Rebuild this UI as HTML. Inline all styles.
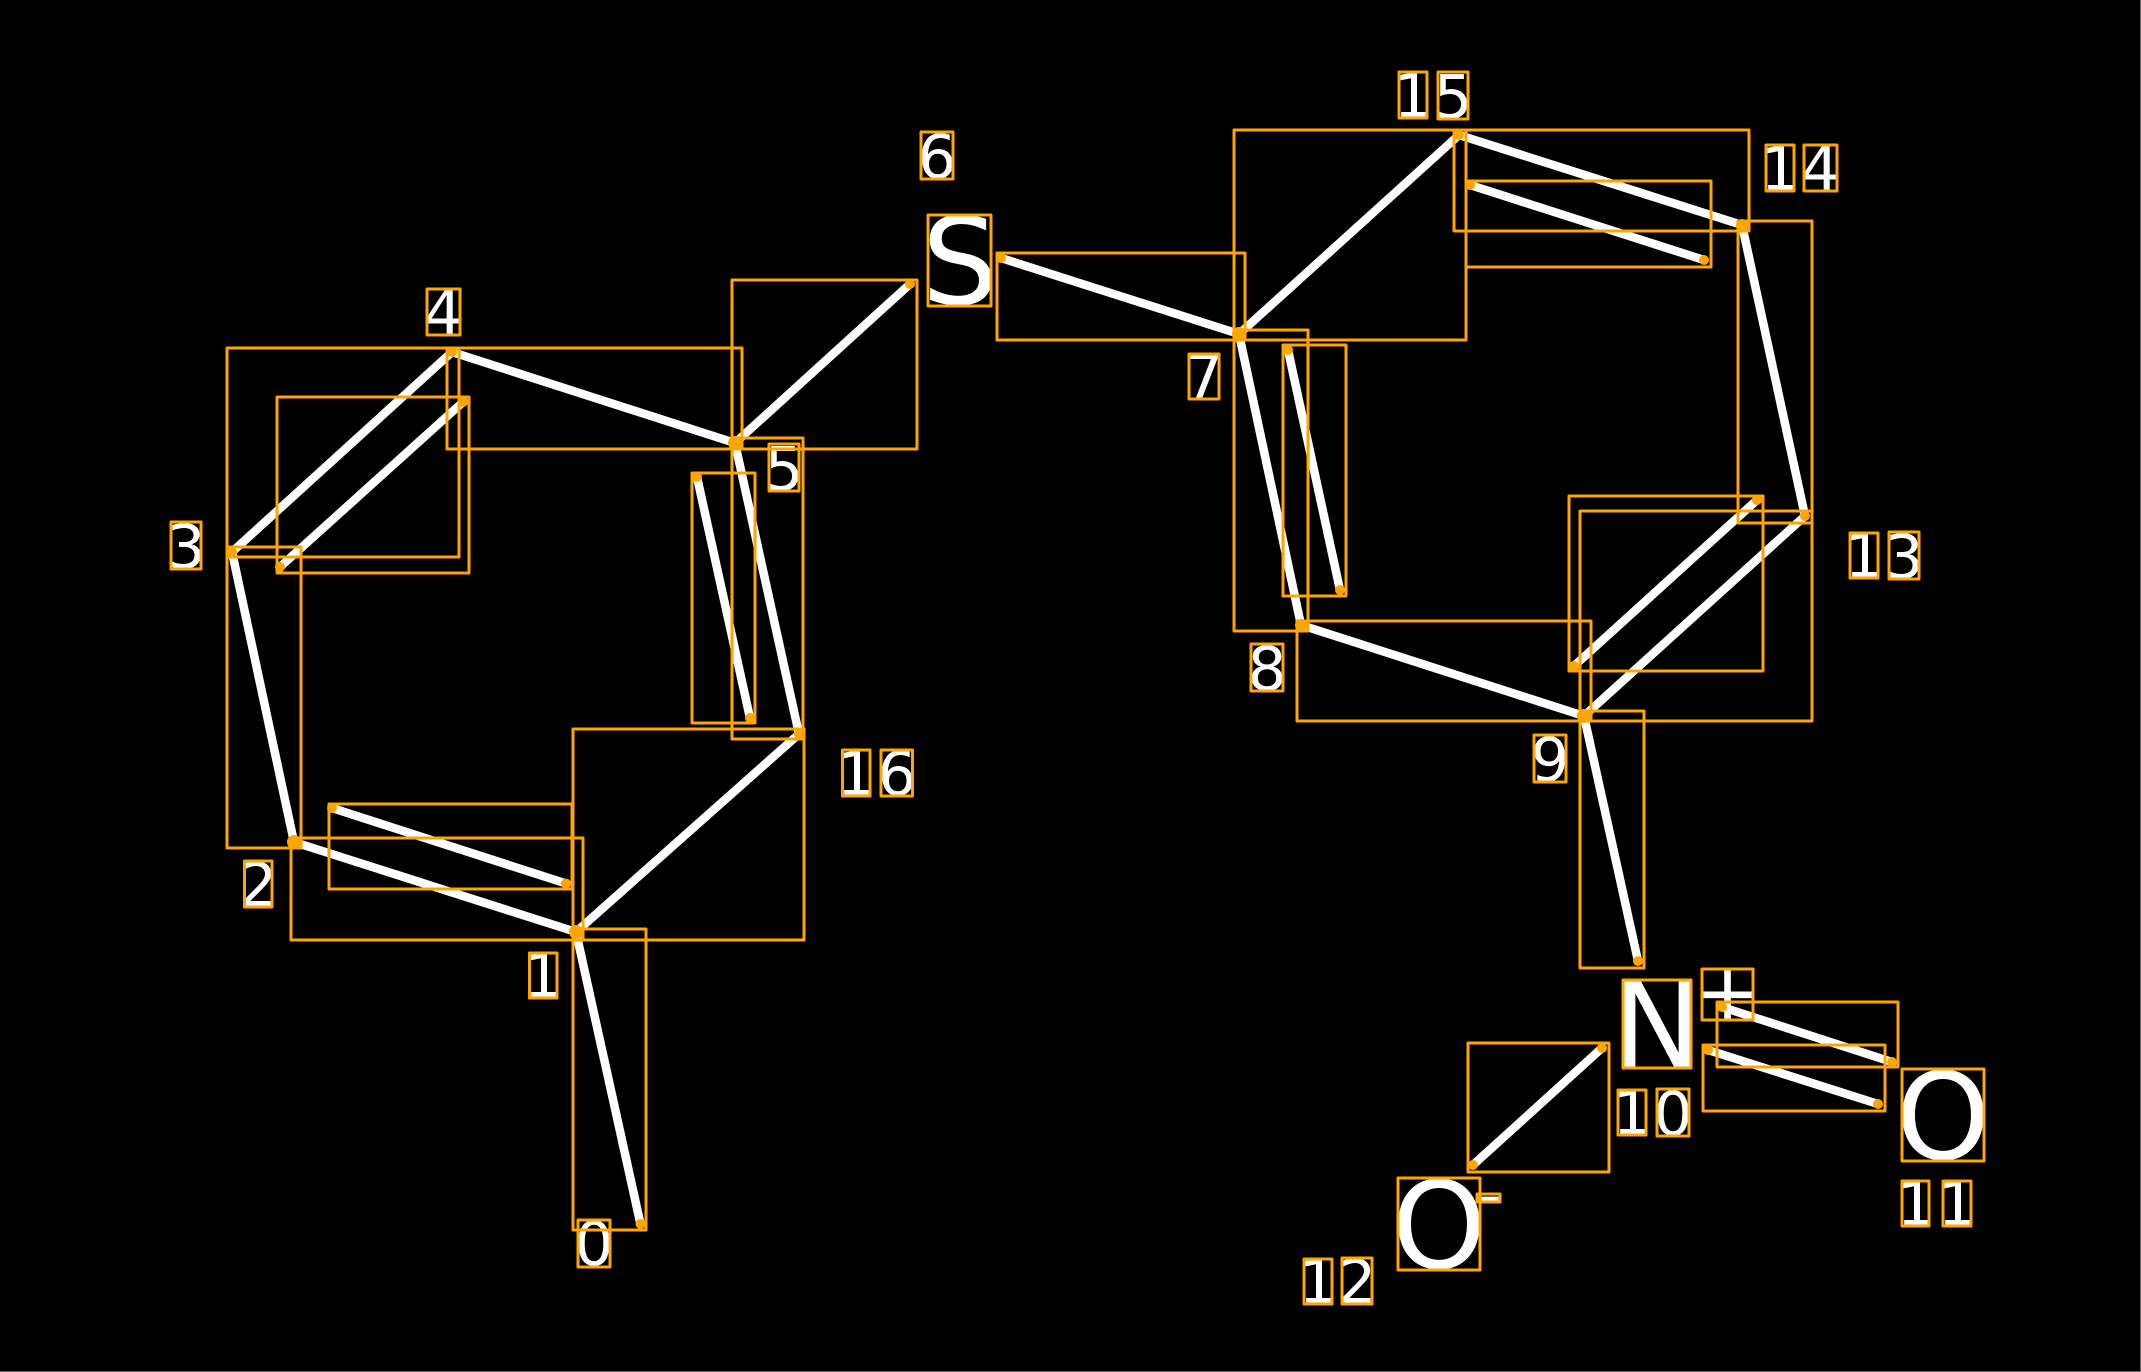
<!DOCTYPE html>
<html><head><meta charset="utf-8"><style>
html,body{margin:0;padding:0;background:#000;width:2141px;height:1372px;overflow:hidden}
svg{display:block}
.b line{stroke:#fff;stroke-width:8.5;stroke-linecap:round}
.r rect{fill:none;stroke:#FFA500;stroke-width:3;stroke-linejoin:round}
.d circle{fill:#FFA500}
text{font-family:"DejaVu Sans","Liberation Sans",sans-serif;fill:#fff;text-anchor:middle}
.n text{font-size:61px}
.a text{font-size:120px}
</style></head><body>
<svg width="2141" height="1372" viewBox="0 0 2141 1372" xmlns="http://www.w3.org/2000/svg">
<rect width="2141" height="1372" fill="#000"/>
<rect x="2140" y="0" width="1" height="1372" fill="#666"/>
<rect x="0" y="1371" width="2141" height="1" fill="#666"/>
<g class="b">
<line x1="640.5" y1="1224" x2="576" y2="932"/>
<line x1="576" y1="932" x2="294" y2="842"/>
<line x1="566" y1="883.5" x2="332" y2="808"/>
<line x1="294" y1="842" x2="232" y2="552"/>
<line x1="232" y1="552" x2="452" y2="352"/>
<line x1="280" y1="567" x2="463" y2="402"/>
<line x1="452" y1="352" x2="735" y2="443"/>
<line x1="735" y1="443" x2="910" y2="284"/>
<line x1="735" y1="443" x2="799" y2="734"/>
<line x1="697" y1="477" x2="750" y2="718"/>
<line x1="799" y1="734" x2="576" y2="932"/>
<line x1="1001" y1="258" x2="1239" y2="334"/>
<line x1="1239" y1="334" x2="1301" y2="625"/>
<line x1="1288" y1="350" x2="1340" y2="590"/>
<line x1="1301" y1="625" x2="1584" y2="716"/>
<line x1="1584" y1="716" x2="1638" y2="961"/>
<line x1="1584" y1="716" x2="1805" y2="516"/>
<line x1="1574" y1="666" x2="1757" y2="500"/>
<line x1="1805" y1="516" x2="1742" y2="225"/>
<line x1="1742" y1="225" x2="1459" y2="135"/>
<line x1="1704" y1="260" x2="1470" y2="185"/>
<line x1="1459" y1="135" x2="1239" y2="334"/>
<line x1="1602" y1="1048" x2="1473" y2="1165"/>
<line x1="1722" y1="1007" x2="1892" y2="1062"/>
<line x1="1708" y1="1050" x2="1878" y2="1104"/>
</g>
<g class="a">
<text x="960" y="304">S</text>
<text x="1657" y="1067">N</text>
<text x="1943" y="1159">O</text>
<text x="1439" y="1268">O</text>
</g>
<text x="1727.5" y="1020" font-size="80">+</text>
<text x="1488" y="1222" font-size="80">-</text>
<g class="n">
<text x="594" y="1265">0</text>
<text x="543" y="997">1</text>
<text x="258" y="906">2</text>
<text x="186" y="568">3</text>
<text x="443" y="334">4</text>
<text x="784" y="490">5</text>
<text x="937" y="178">6</text>
<text x="1204" y="398">7</text>
<text x="1267" y="690">8</text>
<text x="1550" y="781">9</text>
<text x="1632" y="1134">1</text><text x="1673" y="1135">0</text>
<text x="1916" y="1225">1</text><text x="1957" y="1225">1</text>
<text x="1318" y="1303">1</text><text x="1357" y="1303">2</text>
<text x="1864" y="577">1</text><text x="1904" y="578">3</text>
<text x="1780" y="190">1</text><text x="1820" y="190">4</text>
<text x="1413" y="117">1</text><text x="1453" y="118">5</text>
<text x="856" y="795">1</text><text x="897" y="795">6</text>
</g>
<g class="r">
<rect x="573" y="929" width="73" height="301"/>
<rect x="291" y="838" width="292" height="102"/>
<rect x="329" y="804" width="243" height="85"/>
<rect x="227" y="547" width="74" height="301"/>
<rect x="227" y="348" width="232" height="209"/>
<rect x="277" y="397" width="192" height="176"/>
<rect x="447" y="348" width="295" height="101"/>
<rect x="732" y="280" width="185" height="169"/>
<rect x="732" y="438" width="71" height="301"/>
<rect x="692" y="473" width="63" height="250"/>
<rect x="573" y="729" width="231" height="211"/>
<rect x="997" y="253" width="248" height="87"/>
<rect x="1234" y="330" width="74" height="301"/>
<rect x="1283" y="345" width="63" height="251"/>
<rect x="1297" y="621" width="294" height="100"/>
<rect x="1580" y="711" width="64" height="257"/>
<rect x="1580" y="511" width="232" height="210"/>
<rect x="1569" y="496" width="194" height="175"/>
<rect x="1738" y="221" width="74" height="302"/>
<rect x="1454" y="130" width="295" height="101"/>
<rect x="1466" y="181" width="245" height="86"/>
<rect x="1234" y="130" width="232" height="210"/>
<rect x="1468" y="1043" width="141" height="129"/>
<rect x="1717" y="1002" width="181" height="65"/>
<rect x="1703" y="1045" width="182" height="66"/>
<rect x="578" y="1220" width="32" height="47"/>
<rect x="529.5" y="953" width="27.5" height="45"/>
<rect x="244.5" y="861" width="27.5" height="46"/>
<rect x="171" y="522" width="30" height="47"/>
<rect x="427" y="289" width="33" height="46"/>
<rect x="769" y="444" width="30" height="47"/>
<rect x="921" y="132" width="32" height="47"/>
<rect x="1189" y="354" width="30" height="45"/>
<rect x="1251" y="644" width="32" height="47"/>
<rect x="1534" y="735" width="32" height="47"/>
<rect x="1618" y="1090" width="28" height="45"/>
<rect x="1657" y="1089" width="32" height="47"/>
<rect x="1902" y="1181" width="27" height="45"/>
<rect x="1943" y="1181" width="28" height="45"/>
<rect x="1304" y="1259" width="28" height="45"/>
<rect x="1342" y="1258" width="30" height="46"/>
<rect x="1850" y="533" width="28" height="45"/>
<rect x="1889" y="532" width="30" height="47"/>
<rect x="1766" y="145" width="28" height="46"/>
<rect x="1804" y="145" width="33" height="46"/>
<rect x="1399" y="72" width="28" height="46"/>
<rect x="1438" y="72" width="30" height="47"/>
<rect x="842.5" y="750" width="27.5" height="46"/>
<rect x="881" y="750" width="31.5" height="46"/>
<rect x="928" y="215" width="63" height="91"/>
<rect x="1623" y="980" width="68" height="88"/>
<rect x="1702" y="969" width="51" height="51"/>
<rect x="1902" y="1069" width="82" height="92"/>
<rect x="1398" y="1178" width="82" height="92"/>
<rect x="1477" y="1194" width="23" height="8"/>
</g>
<g class="d">
<circle cx="640.5" cy="1224" r="5"/><circle cx="576" cy="932" r="7"/><circle cx="294" cy="842" r="7"/>
<circle cx="566" cy="883.5" r="5"/><circle cx="332" cy="808" r="5"/><circle cx="232" cy="552" r="5"/>
<circle cx="452" cy="352" r="5"/><circle cx="280" cy="567" r="5"/><circle cx="463" cy="402" r="5"/>
<circle cx="735" cy="443" r="7"/><circle cx="910" cy="284" r="5"/><circle cx="799" cy="734" r="5"/>
<circle cx="697" cy="477" r="5"/><circle cx="750" cy="718" r="5"/><circle cx="1001" cy="258" r="5"/>
<circle cx="1239" cy="334" r="7"/><circle cx="1301" cy="625" r="6"/><circle cx="1288" cy="350" r="5"/>
<circle cx="1340" cy="590" r="5"/><circle cx="1584" cy="716" r="7"/><circle cx="1638" cy="961" r="5"/>
<circle cx="1805" cy="516" r="5"/><circle cx="1574" cy="666" r="5"/><circle cx="1757" cy="500" r="5"/>
<circle cx="1742" cy="225" r="6"/><circle cx="1459" cy="135" r="5"/><circle cx="1704" cy="260" r="5"/>
<circle cx="1470" cy="185" r="5"/><circle cx="1602" cy="1048" r="5"/><circle cx="1473" cy="1165" r="5"/>
<circle cx="1722" cy="1007" r="5"/><circle cx="1892" cy="1062" r="5"/><circle cx="1708" cy="1050" r="5"/>
<circle cx="1878" cy="1104" r="5"/>
</g>
</svg>
</body></html>
